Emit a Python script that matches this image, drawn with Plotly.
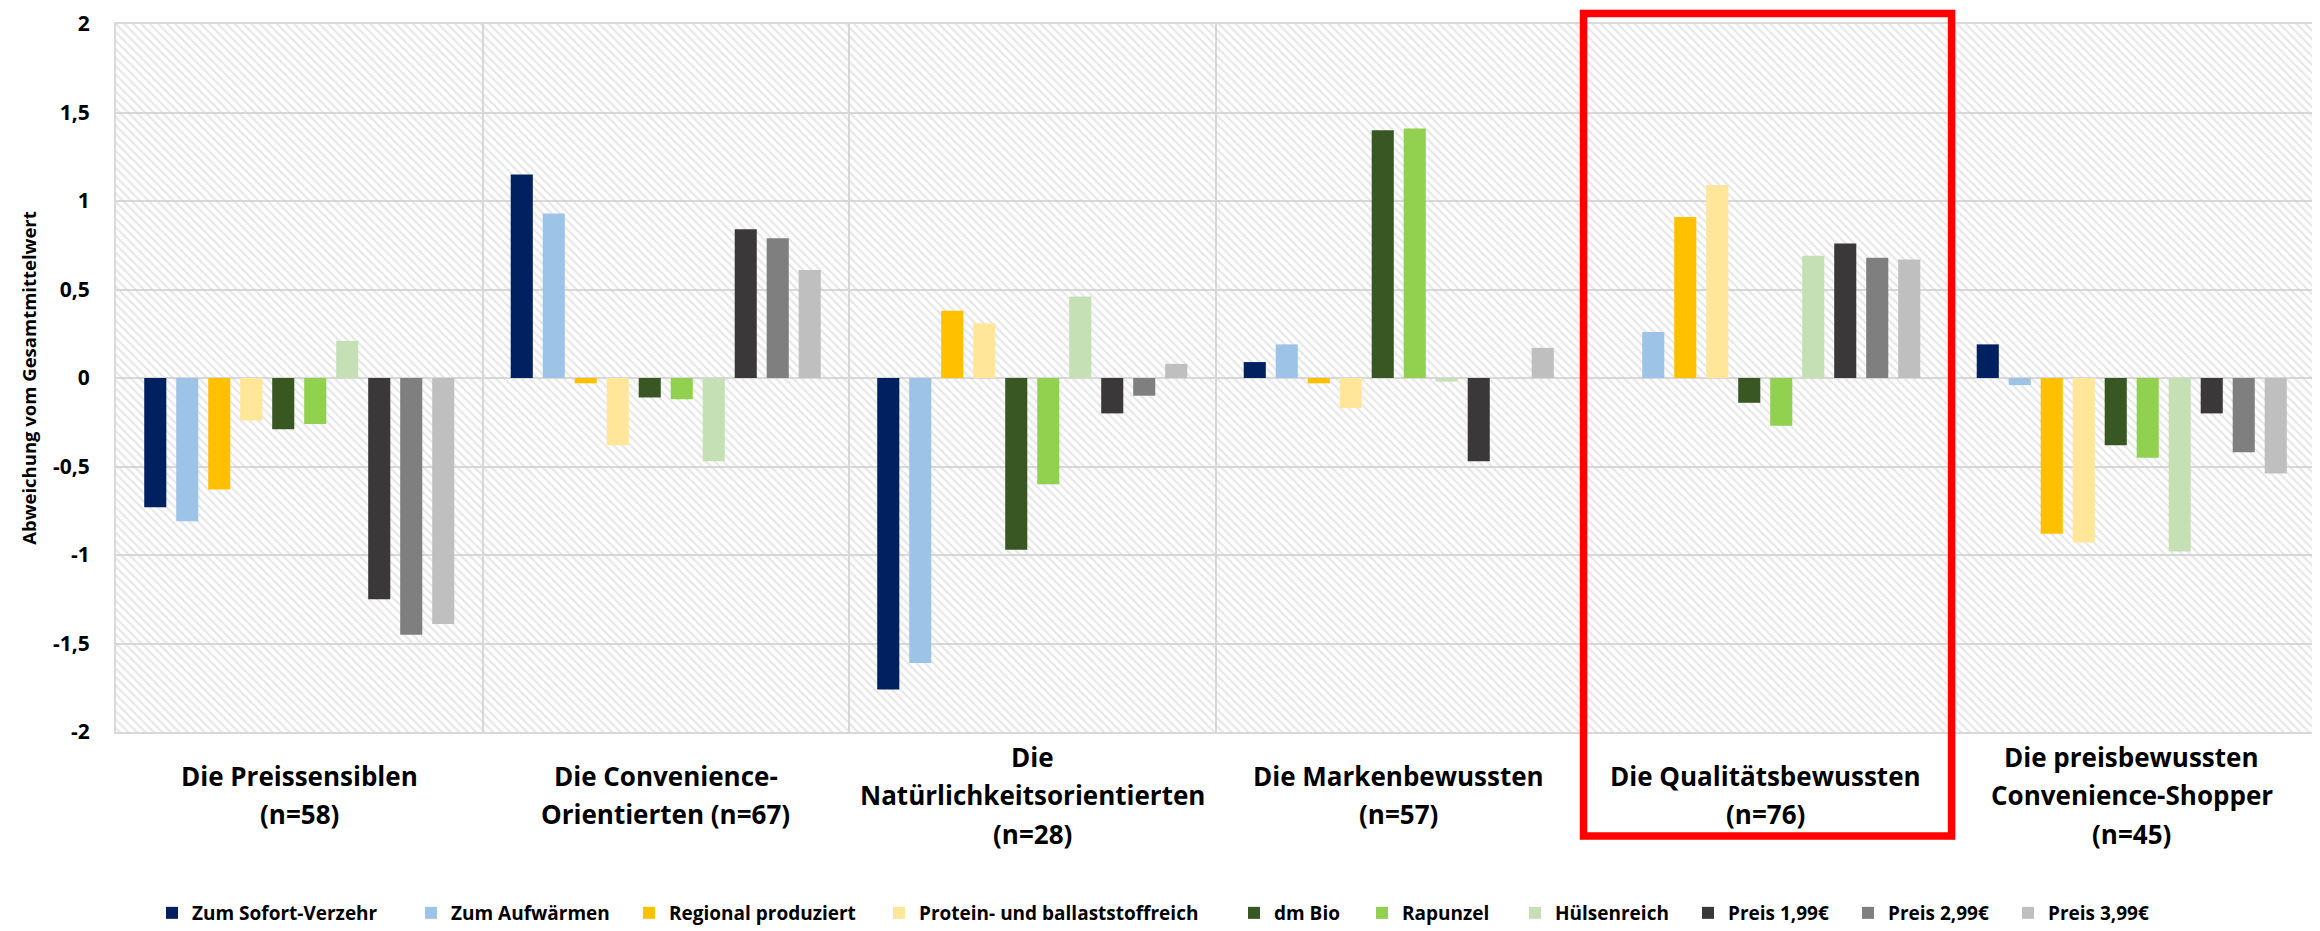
import plotly.graph_objects as go

# ---------------- data ----------------
category_lines = [
    ["Die Preissensiblen", "(n=58)"],
    ["Die Convenience-", "Orientierten (n=67)"],
    ["Die", "Natürlichkeitsorientierten", "(n=28)"],
    ["Die Markenbewussten", "(n=57)"],
    ["Die Qualitätsbewussten", "(n=76)"],
    ["Die preisbewussten", "Convenience-Shopper", "(n=45)"],
]
categories = [" ".join(lines) for lines in category_lines]

series_names = [
    "Zum Sofort-Verzehr", "Zum Aufwärmen", "Regional produziert",
    "Protein- und ballaststoffreich", "dm Bio", "Rapunzel", "Hülsenreich",
    "Preis 1,99€", "Preis 2,99€", "Preis 3,99€",
]
sofort_verzehr = [-0.73, 1.15, -1.76, 0.09, 0.00, 0.19]
aufwaermen = [-0.81, 0.93, -1.61, 0.19, 0.26, -0.04]
regional = [-0.63, -0.03, 0.38, -0.03, 0.91, -0.88]
protein = [-0.24, -0.38, 0.31, -0.17, 1.09, -0.93]
dm_bio = [-0.29, -0.11, -0.97, 1.40, -0.14, -0.38]
rapunzel = [-0.26, -0.12, -0.60, 1.41, -0.27, -0.45]
huelsenreich = [0.21, -0.47, 0.46, -0.02, 0.69, -0.98]
preis_199 = [-1.25, 0.84, -0.20, -0.47, 0.76, -0.20]
preis_299 = [-1.45, 0.79, -0.10, 0.00, 0.68, -0.42]
preis_399 = [-1.39, 0.61, 0.08, 0.17, 0.67, -0.54]
series_values = [sofort_verzehr, aufwaermen, regional, protein, dm_bio,
                 rapunzel, huelsenreich, preis_199, preis_299, preis_399]

y_tickvals = [-2, -1.5, -1, -0.5, 0, 0.5, 1, 1.5, 2]
y_ticktext = ["-2", "-1,5", "-1", "-0,5", "0", "0,5", "1", "1,5", "2"]
y_title = "Abweichung vom Gesamtmittelwert"
highlight_category = 4

# ---------------- style ----------------
colors = ["#002060", "#9DC3E6", "#FFC000", "#FFE699", "#385723",
          "#92D050", "#C5E0B4", "#3A3838", "#7F7F7F", "#BFBFBF"]
FONT = "Open Sans"
W, H = 2320, 931
ML, MR, MT, MB = 108, 13, 16, 207
plot_w = W - ML - MR
plot_h = H - MT - MB
y_range = [y_tickvals[0], y_tickvals[-1]]
grid = "#D9D9D9"
# left pixel of each legend swatch (layout positions)
legend_swatch_px = [165, 424, 642, 892, 1247, 1375, 1528, 1701, 1861, 2021]
legend_center_px = 905

fig = go.Figure()

# hatched plot background (decorative)
fig.add_trace(go.Bar(
    x=categories, y=[y_range[1] - y_range[0]] * len(categories), base=y_range[0],
    width=1, offset=-0.5, offsetgroup="0",
    marker=dict(color="rgba(0,0,0,0)", line=dict(width=0),
                pattern=dict(shape="\\", fgcolor="#CFCFCF", bgcolor="rgba(0,0,0,0)",
                             size=6, solidity=0.38, fillmode="overlay")),
    showlegend=False, hoverinfo="skip",
))

legend_layouts = {}
for i, (name, vals) in enumerate(zip(series_names, series_values)):
    lg = "legend" if i == 0 else f"legend{i + 1}"
    fig.add_trace(go.Bar(
        x=categories, y=vals, name=name, offsetgroup=str(i), legend=lg,
        marker=dict(color=colors[i], line=dict(width=0)),
    ))
    legend_layouts[lg] = dict(
        orientation="h", x=(legend_swatch_px[i] - 21 - ML) / plot_w, xanchor="left",
        y=-(legend_center_px - (H - MB)) / plot_h, yanchor="middle",
        bgcolor="rgba(0,0,0,0)",
        font=dict(family=FONT, size=19, color="black", weight="bold"),
    )

# category labels (vertically centred blocks)
pitch = 38.5
center_px = 63
for cat, lines in zip(categories, category_lines):
    n = len(lines)
    for j, line in enumerate(lines):
        fig.add_annotation(
            x=cat, xref="x", y=0, yref="paper", yanchor="middle", xanchor="center",
            text=line, showarrow=False,
            yshift=-center_px + ((n - 1) / 2 - j) * pitch,
            font=dict(family=FONT, size=26, color="black", weight="bold"),
        )

# highlight box
n_cat = len(categories)
fig.add_shape(
    type="rect", xref="paper", yref="paper",
    x0=highlight_category / n_cat + 0.0007, x1=(highlight_category + 1) / n_cat + 0.0014,
    y0=-104 / plot_h, y1=1 + 10.5 / plot_h,
    line=dict(color="#FF0000", width=7.5), fillcolor="rgba(0,0,0,0)", layer="above",
)

fig.update_layout(
    width=W, height=H,
    margin=dict(l=ML, r=MR, t=MT, b=MB, autoexpand=False),
    plot_bgcolor="white", paper_bgcolor="white",
    barmode="group", bargap=0.127, bargroupgap=0.31,
    font=dict(family=FONT, color="black"),
    showlegend=True,
    **legend_layouts,
)
fig.update_xaxes(
    type="category", range=[-0.5, n_cat - 0.5], tickson="boundaries",
    showgrid=True, gridcolor=grid, gridwidth=2,
    showticklabels=False, ticks="",
    showline=True, linecolor=grid, linewidth=2, mirror=True, automargin=False,
)
fig.update_yaxes(
    range=y_range, tickvals=y_tickvals, ticktext=y_ticktext,
    tickfont=dict(family=FONT, size=21, color="black", weight="bold"),
    showgrid=True, gridcolor=grid, gridwidth=2,
    zeroline=True, zerolinecolor=grid, zerolinewidth=2,
    showline=True, linecolor=grid, linewidth=2, mirror=True,
    ticks="outside", ticklen=20, tickcolor="rgba(0,0,0,0)",
    title=dict(text=y_title, font=dict(family=FONT, size=18.5, color="black", weight="bold"),
               standoff=12),
    automargin=False,
)

fig.write_html("out.html")
